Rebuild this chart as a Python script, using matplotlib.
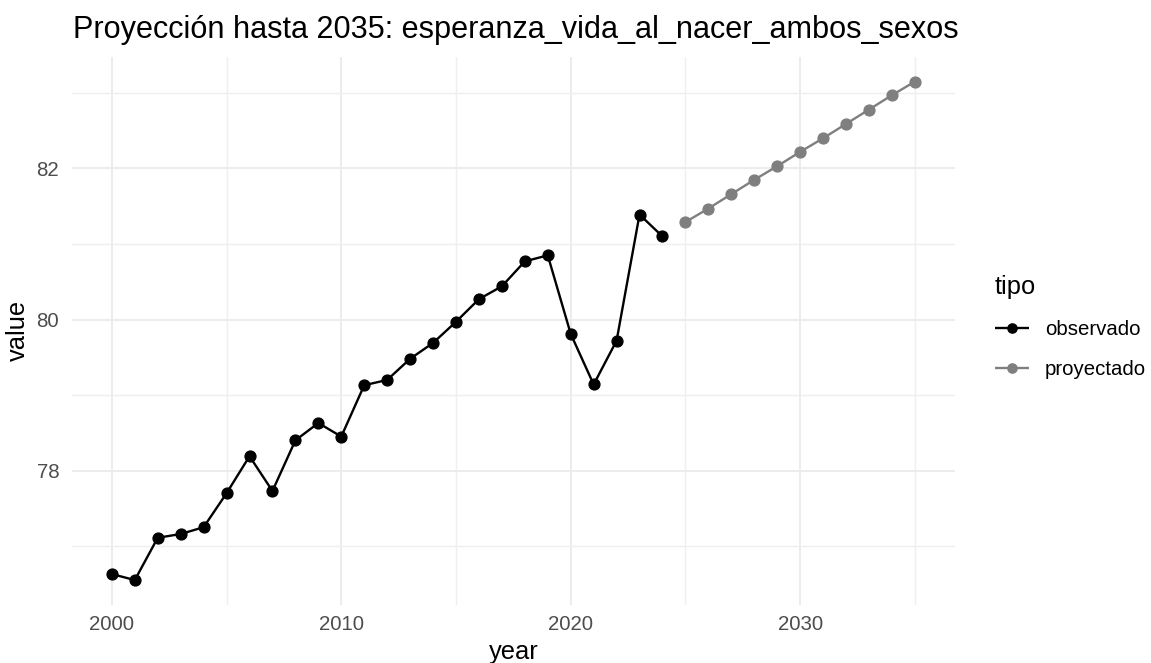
import matplotlib
matplotlib.use("Agg")
import matplotlib.pyplot as plt
from matplotlib.ticker import MultipleLocator

plt.rcParams['font.family'] = ['Liberation Sans', 'DejaVu Sans']

# ---- data ----
years_obs = [2000, 2001, 2002, 2003, 2004, 2005, 2006, 2007, 2008, 2009,
             2010, 2011, 2012, 2013, 2014, 2015, 2016, 2017, 2018, 2019,
             2020, 2021, 2022, 2023, 2024]
values_obs = [76.63, 76.55, 77.11, 77.16, 77.25, 77.70, 78.19, 77.73, 78.40, 78.63,
              78.45, 79.13, 79.20, 79.48, 79.69, 79.97, 80.27, 80.44, 80.77, 80.85,
              79.81, 79.14, 79.72, 81.39, 81.10]
years_proj = [2025, 2026, 2027, 2028, 2029, 2030, 2031, 2032, 2033, 2034, 2035]
values_proj = [81.29, 81.47, 81.66, 81.85, 82.03, 82.22, 82.40, 82.59, 82.78, 82.97, 83.15]
series_labels = ["observado", "proyectado"]
title_text = "Proyección hasta 2035: esperanza_vida_al_nacer_ambos_sexos"

W, H = 1151, 663
fig = plt.figure(figsize=(W / 100, H / 100), dpi=100)
left, right, top, bottom = 71.7, 955.0, 56.7, 605.0
ax = fig.add_axes([left / W, 1 - bottom / H, (right - left) / W, (bottom - top) / H])

ax.plot(years_obs, values_obs, color='black', lw=1.7, marker='o', ms=7.8,
        label=series_labels[0], solid_capstyle='butt')
ax.plot(years_proj, values_proj, color='#7F7F7F', lw=1.7, marker='o', ms=7.8,
        label=series_labels[1], solid_capstyle='butt')

xmin, xmax = min(years_obs), max(years_proj)
xr = xmax - xmin
ax.set_xlim(xmin - 0.05 * xr, xmax + 0.05 * xr)
allv = values_obs + values_proj
ymin, ymax = min(allv), max(allv)
yr = ymax - ymin
ax.set_ylim(ymin - 0.05 * yr, ymax + 0.05 * yr)

ax.xaxis.set_major_locator(MultipleLocator(10))
ax.xaxis.set_minor_locator(MultipleLocator(5))
ax.yaxis.set_major_locator(MultipleLocator(2))
ax.yaxis.set_minor_locator(MultipleLocator(1))

ax.grid(which='major', color='#EBEBEB', lw=1.3)
ax.grid(which='minor', color='#EFEFEF', lw=1.0)
ax.set_axisbelow(True)
for s in ax.spines.values():
    s.set_visible(False)
ax.tick_params(which='both', length=0)
ax.tick_params(axis='x', labelsize=14.7, labelcolor='#4D4D4D', pad=7)
ax.tick_params(axis='y', labelsize=14.7, labelcolor='#4D4D4D', pad=9)

ax.set_xlabel("year", fontsize=18.4, color='black')
ax.set_ylabel("value", fontsize=18.4, color='black')
ax.xaxis.set_label_coords(0.5, (H - 652 - (H - bottom)) / (bottom - top))
ax.xaxis.label.set_va('center')
ax.yaxis.set_label_coords((18 - left) / (right - left), 0.5)
ax.yaxis.label.set_va('center')

fig.text(73 / W, 1 - 38.3 / H, title_text, fontsize=22.1, color='black',
         ha='left', va='baseline')

leg = ax.legend(title="tipo", loc='upper left', bbox_to_anchor=(995 / W, 1 - 275 / H),
                bbox_transform=fig.transFigure, frameon=False, fontsize=14.7,
                title_fontsize=18.4, alignment='left', borderpad=0, borderaxespad=0,
                handlelength=1.65, handletextpad=0.8, labelspacing=1.02, markerscale=0.85)
for t in leg.get_texts():
    t.set_color('black')

fig.savefig("out.png", dpi=100, facecolor='white')
